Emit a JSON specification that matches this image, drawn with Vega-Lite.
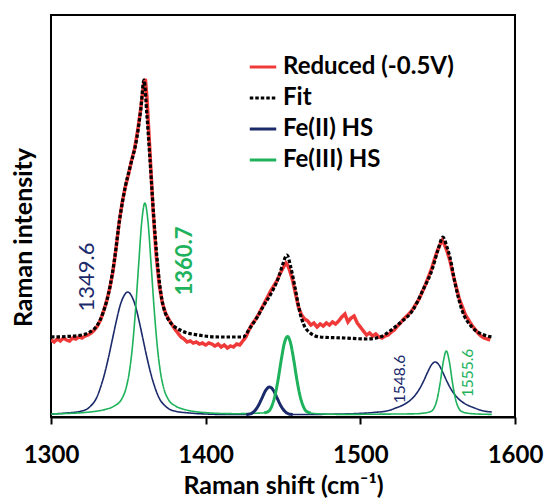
{
  "$schema": "https://vega.github.io/schema/vega-lite/v6.json",
  "width": 464,
  "height": 402,
  "autosize": "none",
  "padding": {"left": 51, "top": 15, "right": 29, "bottom": 81},
  "config": {
    "view": {"stroke": "black", "strokeWidth": 2},
    "font": "Lato"
  },
  "datasets": {
    "spec": [
      {"x":1300,"y":75},{"x":1302,"y":73},{"x":1304,"y":76},{"x":1306,"y":74},{"x":1308,"y":77},{"x":1310,"y":75},{"x":1312,"y":74},{"x":1314,"y":77},{"x":1316,"y":76},{"x":1318,"y":78},{"x":1320,"y":77},{"x":1322,"y":79},{"x":1324,"y":80},{"x":1326,"y":82},{"x":1328,"y":85},{"x":1330,"y":89},{"x":1332,"y":95},{"x":1334,"y":104},{"x":1336,"y":114},{"x":1338,"y":127},{"x":1340,"y":143},{"x":1342,"y":166},{"x":1344,"y":192},{"x":1346,"y":212},{"x":1348,"y":228},{"x":1350,"y":240},{"x":1352,"y":254},{"x":1354,"y":266},{"x":1356,"y":284},{"x":1358,"y":306},{"x":1360,"y":332},{"x":1361,"y":336},{"x":1362,"y":318},{"x":1364,"y":262},{"x":1366,"y":205},{"x":1368,"y":160},{"x":1370,"y":130},{"x":1372,"y":112},{"x":1374,"y":102},{"x":1376,"y":96},{"x":1378,"y":91},{"x":1380,"y":86},{"x":1382,"y":82},{"x":1384,"y":78},{"x":1386,"y":76},{"x":1388,"y":73},{"x":1390,"y":74},{"x":1392,"y":72},{"x":1394,"y":73},{"x":1396,"y":71},{"x":1398,"y":72},{"x":1400,"y":70},{"x":1402,"y":72},{"x":1404,"y":71},{"x":1406,"y":69},{"x":1408,"y":71},{"x":1410,"y":68},{"x":1412,"y":70},{"x":1414,"y":67},{"x":1416,"y":69},{"x":1418,"y":68},{"x":1420,"y":71},{"x":1422,"y":70},{"x":1424,"y":74},{"x":1426,"y":78},{"x":1428,"y":85},{"x":1430,"y":91},{"x":1432,"y":95},{"x":1434,"y":100},{"x":1436,"y":106},{"x":1438,"y":112},{"x":1440,"y":118},{"x":1442,"y":124},{"x":1444,"y":129},{"x":1446,"y":134},{"x":1448,"y":141},{"x":1450,"y":147},{"x":1452,"y":152},{"x":1453,"y":150},{"x":1454,"y":146},{"x":1456,"y":136},{"x":1458,"y":122},{"x":1460,"y":108},{"x":1462,"y":100},{"x":1464,"y":96},{"x":1466,"y":94},{"x":1468,"y":90},{"x":1470,"y":92},{"x":1472,"y":88},{"x":1474,"y":91},{"x":1476,"y":89},{"x":1478,"y":92},{"x":1480,"y":90},{"x":1482,"y":93},{"x":1484,"y":91},{"x":1486,"y":94},{"x":1488,"y":98},{"x":1490,"y":101},{"x":1492,"y":93},{"x":1494,"y":97},{"x":1496,"y":99},{"x":1498,"y":92},{"x":1500,"y":88},{"x":1502,"y":84},{"x":1504,"y":80},{"x":1506,"y":82},{"x":1508,"y":79},{"x":1510,"y":81},{"x":1512,"y":78},{"x":1514,"y":77},{"x":1516,"y":79},{"x":1518,"y":80},{"x":1520,"y":83},{"x":1522,"y":85},{"x":1524,"y":89},{"x":1526,"y":92},{"x":1528,"y":96},{"x":1530,"y":99},{"x":1532,"y":102},{"x":1534,"y":106},{"x":1536,"y":111},{"x":1538,"y":116},{"x":1540,"y":123},{"x":1542,"y":130},{"x":1544,"y":138},{"x":1546,"y":146},{"x":1548,"y":156},{"x":1550,"y":165},{"x":1552,"y":172},{"x":1553,"y":175},{"x":1554,"y":172},{"x":1556,"y":164},{"x":1558,"y":154},{"x":1560,"y":140},{"x":1562,"y":128},{"x":1564,"y":116},{"x":1566,"y":108},{"x":1568,"y":100},{"x":1570,"y":95},{"x":1572,"y":90},{"x":1574,"y":86},{"x":1576,"y":82},{"x":1578,"y":79},{"x":1580,"y":77},{"x":1582,"y":76},{"x":1584,"y":75}
    ],
    "fit": [
      {"x":1300,"y":78},{"x":1310,"y":78.5},{"x":1320,"y":80},{"x":1325.2,"y":83},{"x":1330,"y":90},{"x":1333.6,"y":102},{"x":1338.1,"y":128},{"x":1341,"y":155},{"x":1344.6,"y":198},{"x":1348,"y":228},{"x":1351.1,"y":248},{"x":1355.6,"y":278},{"x":1358,"y":305},{"x":1360.1,"y":335},{"x":1362,"y":300},{"x":1364,"y":255},{"x":1367.2,"y":182},{"x":1370.5,"y":128},{"x":1375,"y":98},{"x":1383.4,"y":85},{"x":1395,"y":80},{"x":1410,"y":78},{"x":1424.1,"y":78},{"x":1428.6,"y":87},{"x":1433,"y":97},{"x":1437,"y":108},{"x":1443.5,"y":125},{"x":1447,"y":137},{"x":1449.3,"y":148},{"x":1452.6,"y":160},{"x":1455,"y":148},{"x":1457.7,"y":128},{"x":1461,"y":102},{"x":1465.5,"y":85},{"x":1473.9,"y":78},{"x":1490,"y":77},{"x":1504.3,"y":76},{"x":1512.7,"y":78},{"x":1520,"y":85},{"x":1525.6,"y":92},{"x":1534,"y":105},{"x":1540.5,"y":125},{"x":1546.3,"y":145},{"x":1550.2,"y":165},{"x":1553.4,"y":178},{"x":1556,"y":168},{"x":1557.9,"y":158},{"x":1561.2,"y":132},{"x":1565.7,"y":105},{"x":1572.1,"y":88},{"x":1580,"y":80},{"x":1585,"y":78}
    ],
    "fe2": [
      {"x":1300,"y":1},{"x":1310,"y":2},{"x":1320,"y":4},{"x":1325,"y":8},{"x":1330,"y":19},{"x":1332.1,"y":28},{"x":1334.6,"y":41},{"x":1337.1,"y":57},{"x":1339.6,"y":75},{"x":1342.1,"y":93},{"x":1344.6,"y":109},{"x":1347.1,"y":119},{"x":1349.6,"y":123},{"x":1352.1,"y":119},{"x":1354.6,"y":109},{"x":1357.1,"y":93},{"x":1359.6,"y":75},{"x":1362.1,"y":57},{"x":1364.6,"y":41},{"x":1367.1,"y":28},{"x":1369.6,"y":18},{"x":1374.6,"y":8},{"x":1379.6,"y":4},{"x":1389.6,"y":2},{"x":1400,"y":1},{"x":1415,"y":0.5},{"x":1426.3,"y":0.5},{"x":1428.8,"y":1.1},{"x":1431.3,"y":3.5},{"x":1433.8,"y":8.7},{"x":1436.3,"y":16.6},{"x":1438.8,"y":24.6},{"x":1441.3,"y":28},{"x":1443.8,"y":24.6},{"x":1446.3,"y":16.6},{"x":1448.8,"y":8.7},{"x":1451.3,"y":3.5},{"x":1453.8,"y":1.1},{"x":1456.3,"y":0.5},{"x":1470,"y":0.6},{"x":1488.4,"y":1},{"x":1498.4,"y":1.5},{"x":1508.4,"y":2.5},{"x":1518.4,"y":4.5},{"x":1523.4,"y":7.3},{"x":1528.4,"y":10.6},{"x":1533.4,"y":16.3},{"x":1535.9,"y":20.7},{"x":1538.4,"y":26.5},{"x":1540.9,"y":33.9},{"x":1543.4,"y":42.4},{"x":1545.9,"y":49.9},{"x":1548.4,"y":53},{"x":1550.9,"y":49.9},{"x":1553.4,"y":42.4},{"x":1555.9,"y":33.9},{"x":1558.4,"y":26.5},{"x":1560.9,"y":20.7},{"x":1563.4,"y":16.3},{"x":1568.4,"y":10.6},{"x":1573.4,"y":7.3},{"x":1578.4,"y":4.5},{"x":1585,"y":3}
    ],
    "fe3": [
      {"x":1300,"y":1},{"x":1310,"y":1.5},{"x":1320,"y":2.3},{"x":1330,"y":4},{"x":1335.7,"y":5.8},{"x":1340.7,"y":8.8},{"x":1345.7,"y":16},{"x":1348.7,"y":27.9},{"x":1350.7,"y":43.5},{"x":1352.7,"y":69},{"x":1354.7,"y":106},{"x":1356.7,"y":151},{"x":1358.7,"y":193.6},{"x":1360.7,"y":212},{"x":1362.7,"y":193.6},{"x":1364.7,"y":151},{"x":1366.7,"y":106},{"x":1368.7,"y":69},{"x":1370.7,"y":43.5},{"x":1372.7,"y":27.9},{"x":1375.7,"y":16},{"x":1380.7,"y":8.8},{"x":1385.7,"y":5.8},{"x":1390.7,"y":4},{"x":1400.7,"y":2.3},{"x":1410.7,"y":1.5},{"x":1420,"y":1.3},{"x":1432.9,"y":1.8},{"x":1437.9,"y":2.2},{"x":1440.9,"y":4},{"x":1442.9,"y":9.5},{"x":1444.9,"y":20},{"x":1446.9,"y":36},{"x":1448.9,"y":55.5},{"x":1450.9,"y":72},{"x":1452.9,"y":78.5},{"x":1454.9,"y":72},{"x":1456.9,"y":55.5},{"x":1458.9,"y":36},{"x":1460.9,"y":20},{"x":1462.9,"y":9.5},{"x":1464.9,"y":4},{"x":1467.9,"y":2},{"x":1472.9,"y":1.2},{"x":1490,"y":0.6},{"x":1510,"y":0.8},{"x":1525,"y":1},{"x":1535.6,"y":1.2},{"x":1540.6,"y":1.8},{"x":1545.6,"y":3.5},{"x":1547.6,"y":6.8},{"x":1549.6,"y":15.5},{"x":1551.6,"y":32},{"x":1553.6,"y":53},{"x":1555.6,"y":64},{"x":1557.6,"y":53},{"x":1559.6,"y":32},{"x":1561.6,"y":15.5},{"x":1563.6,"y":6.8},{"x":1565.6,"y":3.5},{"x":1570.6,"y":1.5},{"x":1575.6,"y":1},{"x":1585,"y":0.6}
    ],
    "labels": [
      {"x":1323.3,"y":138,"label":"1349.6"},
      {"x":1386.6,"y":154,"label":"1360.7"},
      {"x":1525.6,"y":36,"label":"1548.6"},
      {"x":1569.6,"y":42,"label":"1555.6"}
    ]
  },
  "layer": [
    {
      "data": {"name": "spec"},
      "transform": [{"calculate": "'Reduced (-0.5V)'", "as": "s"}],
      "mark": {"type": "line", "strokeWidth": 3.5, "clip": true},
      "encoding": {
        "x": {"field": "x", "type": "quantitative", "scale": {"domain": [1300, 1600], "nice": false, "zero": false},
          "axis": {"title": "Raman shift (cm⁻¹)", "values": [1300, 1400, 1500, 1600], "format": "d", "grid": false, "labelFlush": false,
            "domainColor": "black", "domainWidth": 2, "tickColor": "black", "tickWidth": 2, "tickSize": 7,
            "labelFont": "Lato", "labelFontSize": 24, "labelFontWeight": "bold", "labelColor": "black", "labelPadding": 19,
            "titleFont": "Lato", "titleFontSize": 25, "titleFontWeight": "bold", "titleColor": "black", "titlePadding": 6}},
        "y": {"field": "y", "type": "quantitative", "scale": {"domain": [-2, 400], "nice": false, "zero": false},
          "axis": {"title": "Raman intensity", "ticks": false, "labels": false, "domain": false, "grid": false,
            "titleFont": "Lato", "titleFontSize": 25, "titleFontWeight": "bold", "titleColor": "black", "titlePadding": 15, "titleY": 222}},
        "color": {"field": "s", "type": "nominal",
          "scale": {"domain": ["Reduced (-0.5V)", "Fit", "Fe(II) HS", "Fe(III) HS"], "range": ["#f03a3a", "#000000", "#1b2a6b", "#1db25b"]},
          "legend": {"orient": "none", "legendX": 197, "legendY": 37, "title": null, "symbolType": "stroke", "symbolStrokeWidth": 3,
            "symbolSize": 700, "labelFontSize": 24, "labelFont": "Lato", "labelFontWeight": "bold", "labelColor": "black", "labelLimit": 400,
            "rowPadding": 4, "labelOffset": 5, "padding": 0}},
        "strokeDash": {"field": "s", "type": "nominal",
          "scale": {"domain": ["Reduced (-0.5V)", "Fit", "Fe(II) HS", "Fe(III) HS"], "range": [[1, 0], [3.5, 2], [1, 0], [1, 0]]}}
      }
    },
    {
      "data": {"name": "fit"},
      "transform": [{"calculate": "'Fit'", "as": "s"}],
      "mark": {"type": "line", "strokeWidth": 3.2, "interpolate": "monotone"},
      "encoding": {
        "x": {"field": "x", "type": "quantitative"},
        "y": {"field": "y", "type": "quantitative"},
        "color": {"field": "s", "type": "nominal"},
        "strokeDash": {"field": "s", "type": "nominal"}
      }
    },
    {
      "data": {"name": "fe2"},
      "transform": [{"calculate": "'Fe(II) HS'", "as": "s"}],
      "mark": {"type": "line", "strokeWidth": 1.6, "interpolate": "monotone"},
      "encoding": {
        "x": {"field": "x", "type": "quantitative"},
        "y": {"field": "y", "type": "quantitative"},
        "color": {"field": "s", "type": "nominal"},
        "strokeDash": {"field": "s", "type": "nominal"}
      }
    },
    {
      "data": {"name": "fe3"},
      "transform": [{"calculate": "'Fe(III) HS'", "as": "s"}],
      "mark": {"type": "line", "strokeWidth": 1.6, "interpolate": "monotone"},
      "encoding": {
        "x": {"field": "x", "type": "quantitative"},
        "y": {"field": "y", "type": "quantitative"},
        "color": {"field": "s", "type": "nominal"},
        "strokeDash": {"field": "s", "type": "nominal"}
      }
    },
    {
      "data": {"name": "fe2"},
      "transform": [{"calculate": "'Fe(II) HS'", "as": "s"}, {"filter": "datum.x >= 1426 && datum.x <= 1457"}],
      "mark": {"type": "line", "strokeWidth": 3, "interpolate": "monotone"},
      "encoding": {
        "x": {"field": "x", "type": "quantitative"},
        "y": {"field": "y", "type": "quantitative"},
        "color": {"field": "s", "type": "nominal"},
        "strokeDash": {"field": "s", "type": "nominal"}
      }
    },
    {
      "data": {"name": "fe3"},
      "transform": [{"calculate": "'Fe(III) HS'", "as": "s"}, {"filter": "datum.x >= 1437 && datum.x <= 1468"}],
      "mark": {"type": "line", "strokeWidth": 3, "interpolate": "monotone"},
      "encoding": {
        "x": {"field": "x", "type": "quantitative"},
        "y": {"field": "y", "type": "quantitative"},
        "color": {"field": "s", "type": "nominal"},
        "strokeDash": {"field": "s", "type": "nominal"}
      }
    },
    {
      "data": {"name": "labels"},
      "transform": [{"filter": "datum.label == '1349.6'"}],
      "mark": {"type": "text", "angle": 270, "align": "center", "baseline": "middle", "font": "Lato", "fontSize": 22, "fill": "#1b2a6b"},
      "encoding": {"x": {"field": "x", "type": "quantitative"}, "y": {"field": "y", "type": "quantitative"}, "text": {"field": "label"}}
    },
    {
      "data": {"name": "labels"},
      "transform": [{"filter": "datum.label == '1360.7'"}],
      "mark": {"type": "text", "angle": 270, "align": "center", "baseline": "middle", "font": "Lato", "fontSize": 22, "fontWeight": "bold", "fill": "#1db25b"},
      "encoding": {"x": {"field": "x", "type": "quantitative"}, "y": {"field": "y", "type": "quantitative"}, "text": {"field": "label"}}
    },
    {
      "data": {"name": "labels"},
      "transform": [{"filter": "datum.label == '1548.6'"}],
      "mark": {"type": "text", "angle": 270, "align": "center", "baseline": "middle", "font": "Lato", "fontSize": 15.5, "fill": "#1b2a6b"},
      "encoding": {"x": {"field": "x", "type": "quantitative"}, "y": {"field": "y", "type": "quantitative"}, "text": {"field": "label"}}
    },
    {
      "data": {"name": "labels"},
      "transform": [{"filter": "datum.label == '1555.6'"}],
      "mark": {"type": "text", "angle": 270, "align": "center", "baseline": "middle", "font": "Lato", "fontSize": 15.5, "fill": "#1db25b"},
      "encoding": {"x": {"field": "x", "type": "quantitative"}, "y": {"field": "y", "type": "quantitative"}, "text": {"field": "label"}}
    }
  ]
}
